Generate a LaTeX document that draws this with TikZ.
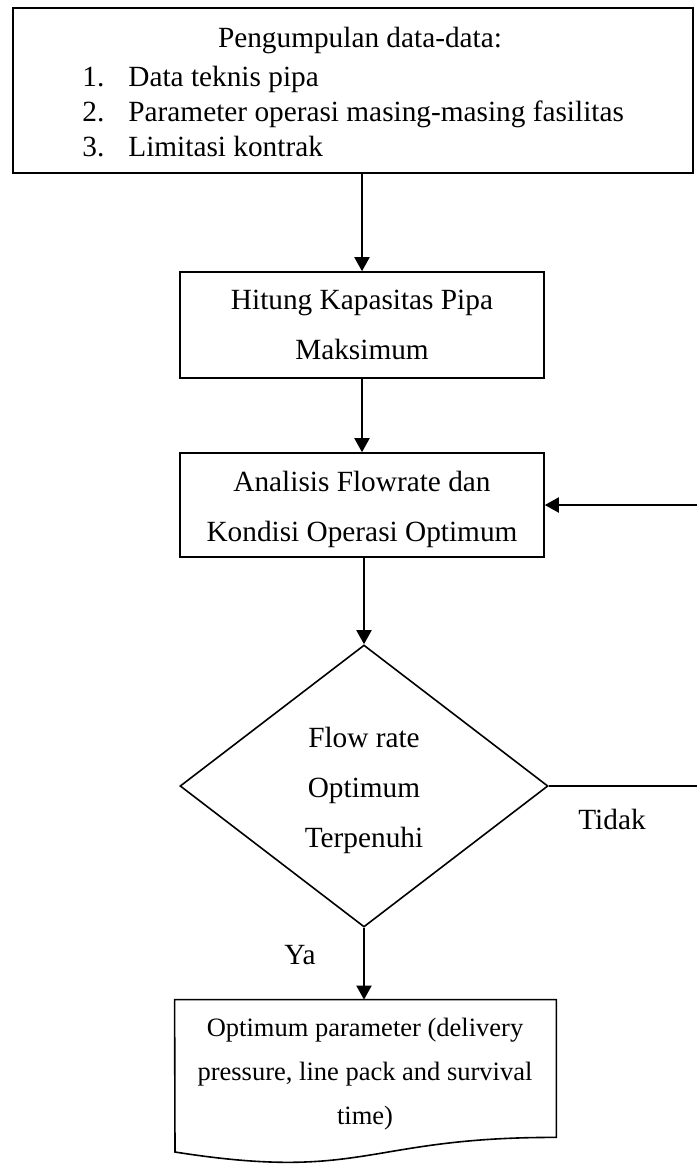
\documentclass[tikz,border=0pt]{standalone}
\usepackage{fontspec}
\setmainfont{Liberation Serif}
\usetikzlibrary{arrows.meta,shapes.geometric}
\begin{document}
\begin{tikzpicture}[x=0.5pt,y=-0.5pt,
  txt/.style={font=\fontsize{14.65}{17}\selectfont, inner sep=0pt, anchor=base},
  txtl/.style={txt, anchor=base west},
  smalltxt/.style={font=\fontsize{13.25}{16}\selectfont, inner sep=0pt, anchor=base},
  procbox/.style={draw, line width=0.8pt, rectangle, inner sep=0pt, minimum width=182pt},
  flow/.style={line width=1pt, -{Triangle[length=7pt,width=7.5pt]}},
]
\useasboundingbox (0,0) rectangle (697,1164);
\clip (0,0) rectangle (697,1164);
\fill[white] (0,0) rectangle (697,1164);

% data collection box
\node[draw, line width=1.1pt, minimum width=340pt, minimum height=82.5pt, inner sep=0pt] (data) at (353,90.5) {};
\node[txt] (dtitle) at (360,47) {Pengumpulan data-data:};
\node[txtl] (n1) at (82,86) {1.};
\node[txtl] (i1) at (128,86) {Data teknis pipa};
\node[txtl] (n2) at (82,121) {2.};
\node[txtl] (i2) at (128,121) {Parameter operasi masing-masing fasilitas};
\node[txtl] (n3) at (82,156) {3.};
\node[txtl] (i3) at (128,156) {Limitasi kontrak};

% maximum pipe capacity
\node[procbox, minimum height=53pt] (hitung) at (362,325) {};
\node[txt] (h1) at (362,309) {Hitung Kapasitas Pipa};
\node[txt] (h2) at (362,359) {Maksimum};

% flowrate analysis
\node[procbox, minimum height=52pt] (analisis) at (362,505) {};
\node[txt] (a1) at (362,491) {Analisis Flowrate dan};
\node[txt] (a2) at (362,541) {Kondisi Operasi Optimum};

% decision
\node[draw, diamond, line width=0.8pt, minimum width=184pt, minimum height=141pt, inner sep=0pt] (cek) at (364,786) {};
\node[txt] (c1) at (364,747) {Flow rate};
\node[txt] (c2) at (364,797) {Optimum};
\node[txt] (c3) at (364,847) {Terpenuhi};

% result document
\node[minimum width=190.5pt, minimum height=68.5pt, inner sep=0pt] (hasil) at (365.5,1068.5) {};
\coordinate (wave1) at (365,1137);
\coordinate (wave2) at (365,1182);
\coordinate (docleft) at (175,1152);
\draw[line width=0.8pt, fill=white] (hasil.north west) -- (hasil.north east) -- (hasil.south east)
  .. controls (wave1) and (wave2) .. (docleft) -- cycle;
\node[smalltxt] (r1) at (365,1036) {Optimum parameter (delivery};
\node[smalltxt] (r2) at (365,1080) {pressure, line pack and survival};
\node[smalltxt] (r3) at (365,1124) {time)};

% connectors
\draw[flow] (hitung.north |- data.south) -- (hitung.north);
\draw[flow] (hitung.south) -- (analisis.north);
\draw[flow] (cek.north |- analisis.south) -- (cek.north);
\draw[flow] (cek.south) -- (cek.south |- hasil.north);
\coordinate (loopR) at (712,786);
\draw[flow] (cek.east) -- (loopR) -- (loopR |- analisis.east) -- (analisis.east);

% branch labels
\node[txt] (tidak) at (612,829) {Tidak};
\node[txt] (ya) at (300,964) {Ya};
\end{tikzpicture}
\end{document}
